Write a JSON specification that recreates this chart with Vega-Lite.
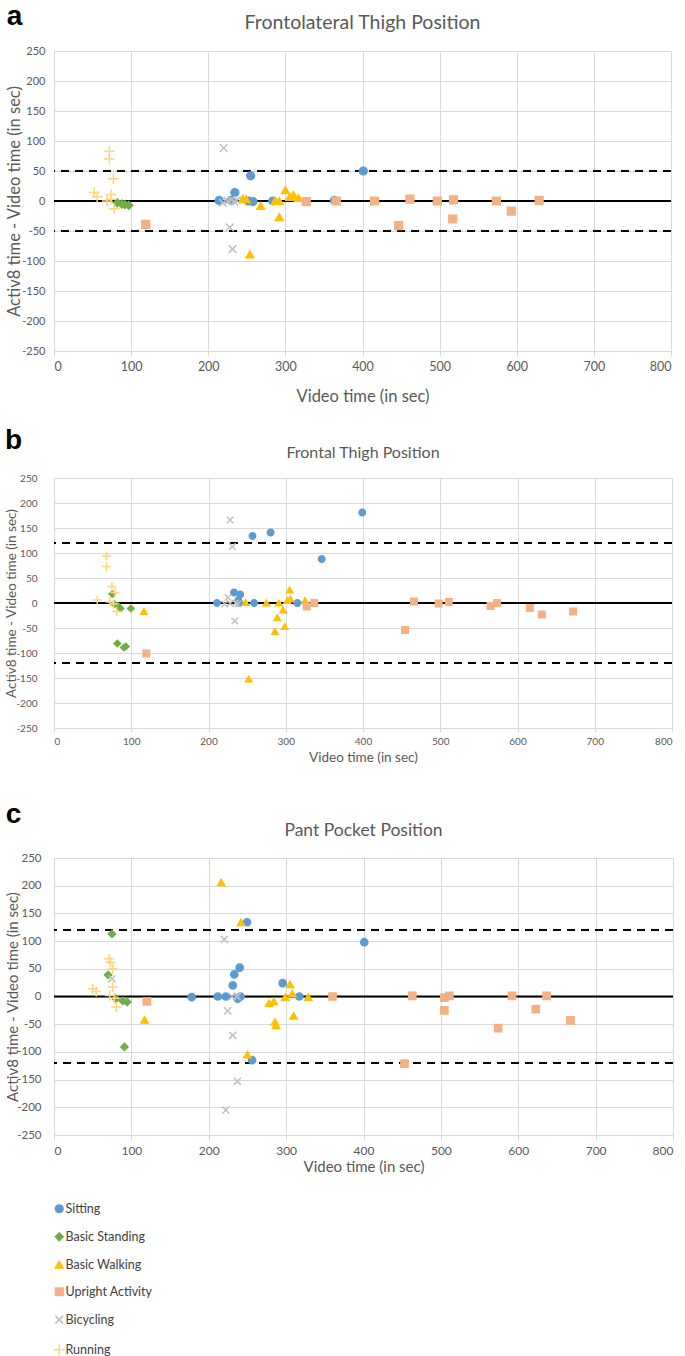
{
  "$schema": "https://vega.github.io/schema/vega-lite/v6.json",
  "background": "white",
  "padding": {"left": 4, "top": 2, "right": 2, "bottom": 2},
  "columns": 1,
  "align": "none",
  "spacing": 22,
  "config": {
    "view": {"stroke": null},
    "font": "Lato",
    "axis": {"gridColor": "#D9D9D9", "domainColor": "#D9D9D9", "tickColor": "#D9D9D9", "labelColor": "#595959", "titleColor": "#595959", "labelFont": "Lato", "titleFont": "Lato", "titleFontWeight": "normal"},
    "legend": {"labelFont": "Lato", "labelFontSize": 12.5, "labelColor": "#404040", "rowPadding": 13, "symbolSize": 60, "symbolStrokeWidth": 1.5, "labelOffset": 0}
  },
  "datasets": {
    "a": [
      {"activity": "Sitting", "video": 214, "diff": 1},
      {"activity": "Sitting", "video": 230, "diff": 1},
      {"activity": "Sitting", "video": 234.5, "diff": 14},
      {"activity": "Sitting", "video": 252, "diff": 0},
      {"activity": "Sitting", "video": 258, "diff": -1},
      {"activity": "Sitting", "video": 283.6, "diff": 0},
      {"activity": "Sitting", "video": 363.5, "diff": 1},
      {"activity": "Sitting", "video": 255, "diff": 42},
      {"activity": "Sitting", "video": 401, "diff": 50},
      {"activity": "Basic Standing", "video": 82, "diff": -3},
      {"activity": "Basic Standing", "video": 88, "diff": -5},
      {"activity": "Basic Standing", "video": 92, "diff": -6},
      {"activity": "Basic Standing", "video": 97, "diff": -7},
      {"activity": "Basic Walking", "video": 245, "diff": 4},
      {"activity": "Basic Walking", "video": 249, "diff": 3},
      {"activity": "Basic Walking", "video": 268, "diff": -8},
      {"activity": "Basic Walking", "video": 286.6, "diff": 0},
      {"activity": "Basic Walking", "video": 292, "diff": 0},
      {"activity": "Basic Walking", "video": 292, "diff": -27},
      {"activity": "Basic Walking", "video": 300, "diff": 18},
      {"activity": "Basic Walking", "video": 305.6, "diff": 7},
      {"activity": "Basic Walking", "video": 310.6, "diff": 10},
      {"activity": "Basic Walking", "video": 317, "diff": 5},
      {"activity": "Basic Walking", "video": 254, "diff": -89},
      {"activity": "Upright Activity", "video": 119, "diff": -39},
      {"activity": "Upright Activity", "video": 327, "diff": -1},
      {"activity": "Upright Activity", "video": 366, "diff": 0},
      {"activity": "Upright Activity", "video": 415.6, "diff": 0},
      {"activity": "Upright Activity", "video": 461.5, "diff": 3},
      {"activity": "Upright Activity", "video": 497, "diff": 0},
      {"activity": "Upright Activity", "video": 518, "diff": 2},
      {"activity": "Upright Activity", "video": 573.6, "diff": 0},
      {"activity": "Upright Activity", "video": 629, "diff": 1},
      {"activity": "Upright Activity", "video": 447, "diff": -41},
      {"activity": "Upright Activity", "video": 517, "diff": -30},
      {"activity": "Upright Activity", "video": 593, "diff": -17},
      {"activity": "Bicycling", "video": 220, "diff": 88},
      {"activity": "Bicycling", "video": 219, "diff": -3},
      {"activity": "Bicycling", "video": 225, "diff": 0},
      {"activity": "Bicycling", "video": 230, "diff": 2},
      {"activity": "Bicycling", "video": 234, "diff": -1},
      {"activity": "Bicycling", "video": 237, "diff": 1},
      {"activity": "Bicycling", "video": 228, "diff": -44},
      {"activity": "Bicycling", "video": 231.5, "diff": -80},
      {"activity": "Running", "video": 71.7, "diff": 83},
      {"activity": "Running", "video": 71.7, "diff": 70},
      {"activity": "Running", "video": 77, "diff": 37},
      {"activity": "Running", "video": 52, "diff": 14},
      {"activity": "Running", "video": 56, "diff": 7},
      {"activity": "Running", "video": 74, "diff": 11},
      {"activity": "Running", "video": 69, "diff": 0},
      {"activity": "Running", "video": 74, "diff": 3},
      {"activity": "Running", "video": 78, "diff": -13}
    ],
    "b": [
      {"activity": "Sitting", "video": 211, "diff": 0},
      {"activity": "Sitting", "video": 233, "diff": 21},
      {"activity": "Sitting", "video": 241, "diff": 17},
      {"activity": "Sitting", "video": 238.5, "diff": 5},
      {"activity": "Sitting", "video": 240, "diff": 0},
      {"activity": "Sitting", "video": 257, "diff": 134},
      {"activity": "Sitting", "video": 280.4, "diff": 141},
      {"activity": "Sitting", "video": 399, "diff": 181},
      {"activity": "Sitting", "video": 346.6, "diff": 88},
      {"activity": "Sitting", "video": 259, "diff": 0},
      {"activity": "Sitting", "video": 315, "diff": 0},
      {"activity": "Basic Standing", "video": 75.5, "diff": 18},
      {"activity": "Basic Standing", "video": 78, "diff": -2},
      {"activity": "Basic Standing", "video": 83, "diff": -6},
      {"activity": "Basic Standing", "video": 86, "diff": -11},
      {"activity": "Basic Standing", "video": 99.5, "diff": -11},
      {"activity": "Basic Standing", "video": 82, "diff": -81},
      {"activity": "Basic Standing", "video": 90.5, "diff": -89},
      {"activity": "Basic Standing", "video": 93, "diff": -87},
      {"activity": "Basic Walking", "video": 116.5, "diff": -17},
      {"activity": "Basic Walking", "video": 248, "diff": 1},
      {"activity": "Basic Walking", "video": 275, "diff": 0},
      {"activity": "Basic Walking", "video": 291, "diff": 0},
      {"activity": "Basic Walking", "video": 302, "diff": 5},
      {"activity": "Basic Walking", "video": 306, "diff": 8},
      {"activity": "Basic Walking", "video": 305, "diff": 26},
      {"activity": "Basic Walking", "video": 296.6, "diff": -14},
      {"activity": "Basic Walking", "video": 289, "diff": -29},
      {"activity": "Basic Walking", "video": 298.7, "diff": -47},
      {"activity": "Basic Walking", "video": 286, "diff": -57},
      {"activity": "Basic Walking", "video": 325, "diff": 5},
      {"activity": "Basic Walking", "video": 252, "diff": -152},
      {"activity": "Upright Activity", "video": 119.5, "diff": -101},
      {"activity": "Upright Activity", "video": 327, "diff": -7},
      {"activity": "Upright Activity", "video": 337, "diff": 0},
      {"activity": "Upright Activity", "video": 466, "diff": 3},
      {"activity": "Upright Activity", "video": 498, "diff": -1},
      {"activity": "Upright Activity", "video": 511, "diff": 2},
      {"activity": "Upright Activity", "video": 565, "diff": -6},
      {"activity": "Upright Activity", "video": 573.6, "diff": 0},
      {"activity": "Upright Activity", "video": 616, "diff": -10},
      {"activity": "Upright Activity", "video": 631.5, "diff": -23},
      {"activity": "Upright Activity", "video": 672, "diff": -17},
      {"activity": "Upright Activity", "video": 454.5, "diff": -54},
      {"activity": "Bicycling", "video": 228, "diff": 166},
      {"activity": "Bicycling", "video": 231, "diff": 113},
      {"activity": "Bicycling", "video": 234, "diff": -36},
      {"activity": "Bicycling", "video": 221, "diff": -2},
      {"activity": "Bicycling", "video": 225, "diff": 11},
      {"activity": "Bicycling", "video": 228, "diff": -1},
      {"activity": "Bicycling", "video": 235, "diff": 0},
      {"activity": "Bicycling", "video": 238, "diff": -2},
      {"activity": "Running", "video": 68, "diff": 94},
      {"activity": "Running", "video": 68, "diff": 73},
      {"activity": "Running", "video": 75, "diff": 33},
      {"activity": "Running", "video": 79, "diff": 21},
      {"activity": "Running", "video": 56, "diff": 6},
      {"activity": "Running", "video": 72.6, "diff": 2},
      {"activity": "Running", "video": 77, "diff": -2},
      {"activity": "Running", "video": 81, "diff": -17}
    ],
    "c": [
      {"activity": "Sitting", "video": 178, "diff": -1},
      {"activity": "Sitting", "video": 211.6, "diff": 0},
      {"activity": "Sitting", "video": 222, "diff": 0},
      {"activity": "Sitting", "video": 231, "diff": 20},
      {"activity": "Sitting", "video": 233, "diff": 40},
      {"activity": "Sitting", "video": 240, "diff": 52},
      {"activity": "Sitting", "video": 237.4, "diff": -4},
      {"activity": "Sitting", "video": 241, "diff": 0},
      {"activity": "Sitting", "video": 249.5, "diff": 134},
      {"activity": "Sitting", "video": 295.5, "diff": 24},
      {"activity": "Sitting", "video": 317, "diff": 0},
      {"activity": "Sitting", "video": 256, "diff": -115},
      {"activity": "Sitting", "video": 401, "diff": 98},
      {"activity": "Basic Standing", "video": 75, "diff": 113},
      {"activity": "Basic Standing", "video": 70, "diff": 39},
      {"activity": "Basic Standing", "video": 80, "diff": -4},
      {"activity": "Basic Standing", "video": 89, "diff": -8},
      {"activity": "Basic Standing", "video": 94.6, "diff": -10},
      {"activity": "Basic Standing", "video": 91, "diff": -91},
      {"activity": "Basic Walking", "video": 117, "diff": -42},
      {"activity": "Basic Walking", "video": 216, "diff": 206},
      {"activity": "Basic Walking", "video": 241.7, "diff": 134},
      {"activity": "Basic Walking", "video": 250, "diff": -105},
      {"activity": "Basic Walking", "video": 278, "diff": -12},
      {"activity": "Basic Walking", "video": 284, "diff": -9},
      {"activity": "Basic Walking", "video": 285.5, "diff": -46},
      {"activity": "Basic Walking", "video": 287, "diff": -52},
      {"activity": "Basic Walking", "video": 299, "diff": -1},
      {"activity": "Basic Walking", "video": 305, "diff": 22},
      {"activity": "Basic Walking", "video": 308, "diff": 5},
      {"activity": "Basic Walking", "video": 309.7, "diff": -35},
      {"activity": "Basic Walking", "video": 328.6, "diff": -1},
      {"activity": "Upright Activity", "video": 120, "diff": -9},
      {"activity": "Upright Activity", "video": 360, "diff": 0},
      {"activity": "Upright Activity", "video": 463, "diff": 1},
      {"activity": "Upright Activity", "video": 504.5, "diff": -2},
      {"activity": "Upright Activity", "video": 511, "diff": 1},
      {"activity": "Upright Activity", "video": 504.5, "diff": -25},
      {"activity": "Upright Activity", "video": 574, "diff": -57},
      {"activity": "Upright Activity", "video": 592, "diff": 1},
      {"activity": "Upright Activity", "video": 622.7, "diff": -23},
      {"activity": "Upright Activity", "video": 636.6, "diff": 1},
      {"activity": "Upright Activity", "video": 667.5, "diff": -43},
      {"activity": "Upright Activity", "video": 453, "diff": -121},
      {"activity": "Bicycling", "video": 75, "diff": 32},
      {"activity": "Bicycling", "video": 220, "diff": 103},
      {"activity": "Bicycling", "video": 224.5, "diff": -26},
      {"activity": "Bicycling", "video": 231, "diff": -70},
      {"activity": "Bicycling", "video": 237, "diff": -153},
      {"activity": "Bicycling", "video": 230, "diff": 0},
      {"activity": "Bicycling", "video": 236.5, "diff": 0},
      {"activity": "Bicycling", "video": 222, "diff": -205},
      {"activity": "Running", "video": 71, "diff": 68},
      {"activity": "Running", "video": 73, "diff": 62},
      {"activity": "Running", "video": 76, "diff": 50},
      {"activity": "Running", "video": 50, "diff": 14},
      {"activity": "Running", "video": 54.6, "diff": 9},
      {"activity": "Running", "video": 76, "diff": 17},
      {"activity": "Running", "video": 72, "diff": 2},
      {"activity": "Running", "video": 78, "diff": -3},
      {"activity": "Running", "video": 80.4, "diff": -19}
    ]
  },
  "concat": [
    {
      "title": {"text": "a", "anchor": "start", "frame": "bounds", "fontSize": 28, "font": "Liberation Sans", "fontWeight": "bold", "color": "#000000", "offset": -18},
      "vconcat": [
        {
          "width": 617, "height": 300,
          "title": {"text": "Frontolateral Thigh Position", "fontSize": 19.5, "font": "Lato", "color": "#595959", "fontWeight": "normal", "offset": 12},
          "encoding": {
            "y": {"field": "diff", "type": "quantitative", "scale": {"domain": [-250, 250], "nice": false},
                  "axis": {"values": [-250, -200, -150, -100, -50, 0, 50, 100, 150, 200, 250], "labelExpr": "'' + datum.value", "title": "Activ8 time - Video time (in sec)", "labelFontSize": 11, "titleFontSize": 16.5, "ticks": false, "labelPadding": 9, "titlePadding": -1}}
          },
          "layer": [
            {"data": {"values": [{"diff": 50}, {"diff": -50}]}, "mark": {"type": "rule", "color": "#000000", "strokeWidth": 2, "strokeDash": [8, 6]}},
            {"data": {"values": [{"diff": 0}]}, "mark": {"type": "rule", "color": "#000000", "strokeWidth": 2}},
            {"data": {"name": "a"}, "mark": {"type": "point", "filled": true, "strokeWidth": 1.5, "opacity": 1, "size": 60},
             "encoding": {
               "x": {"field": "video", "type": "quantitative", "scale": {"domain": [0, 800], "nice": false},
                     "axis": {"values": [0, 100, 200, 300, 400, 500, 600, 700, 800], "title": "Video time (in sec)", "labelFontSize": 12.5, "titleFontSize": 16.5, "labelPadding": 4, "titlePadding": 16, "tickSize": 5}},
               "color": {"field": "activity", "type": "nominal", "scale": {"domain": ["Sitting", "Basic Standing", "Basic Walking", "Upright Activity", "Bicycling", "Running"], "range": ["#5B9BD5", "#70AD47", "#FFC000", "#F4B183", "#BFBFBF", "#FFD47F"]},
                         "legend": {"title": null, "orient": "none", "legendX": -1, "legendY": 1151.5, "direction": "vertical"}},
               "stroke": {"field": "activity", "type": "nominal", "scale": {"domain": ["Sitting", "Basic Standing", "Basic Walking", "Upright Activity", "Bicycling", "Running"], "range": ["#5B9BD5", "#70AD47", "#FFC000", "#F4B183", "#BFBFBF", "#FFD47F"]},
                         "legend": {"title": null, "orient": "none", "legendX": -1, "legendY": 1151.5, "direction": "vertical"}},
               "shape": {"field": "activity", "type": "nominal", "scale": {"domain": ["Sitting", "Basic Standing", "Basic Walking", "Upright Activity", "Bicycling", "Running"], "range": ["circle", "diamond", "triangle-up", "square", "M-1,-1L1,1M-1,1L1,-1", "M-1.4,0L1.4,0M0,-1.4L0,1.4"]},
                         "legend": {"title": null, "orient": "none", "legendX": -1, "legendY": 1151.5, "direction": "vertical"}}
             }}
          ]
        }
      ]
    },
    {
      "columns": 1,
      "align": "none",
      "spacing": 37,
      "concat": [
        {
          "title": {"text": "b", "anchor": "start", "frame": "bounds", "fontSize": 28, "font": "Liberation Sans", "fontWeight": "bold", "color": "#000000", "offset": -10},
          "vconcat": [
            {
              "width": 618, "height": 250,
              "title": {"text": "Frontal Thigh Position", "fontSize": 16, "font": "Lato", "color": "#595959", "fontWeight": "normal", "offset": 12},
              "encoding": {
                "y": {"field": "diff", "type": "quantitative", "scale": {"domain": [-250, 250], "nice": false},
                      "axis": {"values": [-250, -200, -150, -100, -50, 0, 50, 100, 150, 200, 250], "labelExpr": "'' + datum.value", "title": "Activ8 time - Video time (in sec)", "labelFontSize": 10, "titleFontSize": 13.5, "ticks": false, "labelPadding": 17, "titlePadding": -3}}
              },
              "layer": [
                {"data": {"values": [{"diff": 120}, {"diff": -120}]}, "mark": {"type": "rule", "color": "#000000", "strokeWidth": 2, "strokeDash": [8, 6]}},
                {"data": {"values": [{"diff": 0}]}, "mark": {"type": "rule", "color": "#000000", "strokeWidth": 2}},
                {"data": {"name": "b"}, "mark": {"type": "point", "filled": true, "strokeWidth": 1.5, "opacity": 1, "size": 42},
                 "encoding": {
                   "x": {"field": "video", "type": "quantitative", "scale": {"domain": [0, 800], "nice": false},
                         "axis": {"values": [0, 100, 200, 300, 400, 500, 600, 700, 800], "title": "Video time (in sec)", "labelFontSize": 10, "titleFontSize": 13.5, "labelPadding": 4, "titlePadding": 4, "tickSize": 4}},
                   "color": {"field": "activity", "type": "nominal", "scale": {"domain": ["Sitting", "Basic Standing", "Basic Walking", "Upright Activity", "Bicycling", "Running"], "range": ["#5B9BD5", "#70AD47", "#FFC000", "#F4B183", "#BFBFBF", "#FFD47F"]},
                             "legend": {"title": null, "orient": "none", "legendX": -1, "legendY": 1151.5, "direction": "vertical"}},
                   "stroke": {"field": "activity", "type": "nominal", "scale": {"domain": ["Sitting", "Basic Standing", "Basic Walking", "Upright Activity", "Bicycling", "Running"], "range": ["#5B9BD5", "#70AD47", "#FFC000", "#F4B183", "#BFBFBF", "#FFD47F"]},
                             "legend": {"title": null, "orient": "none", "legendX": -1, "legendY": 1151.5, "direction": "vertical"}},
                   "shape": {"field": "activity", "type": "nominal", "scale": {"domain": ["Sitting", "Basic Standing", "Basic Walking", "Upright Activity", "Bicycling", "Running"], "range": ["circle", "diamond", "triangle-up", "square", "M-1,-1L1,1M-1,1L1,-1", "M-1.4,0L1.4,0M0,-1.4L0,1.4"]},
                             "legend": {"title": null, "orient": "none", "legendX": -1, "legendY": 1151.5, "direction": "vertical"}}
                 }}
              ]
            }
          ]
        },
        {
          "title": {"text": "c", "anchor": "start", "frame": "bounds", "fontSize": 28, "font": "Liberation Sans", "fontWeight": "bold", "color": "#000000", "offset": -7},
          "vconcat": [
            {
              "width": 619, "height": 277,
              "title": {"text": "Pant Pocket Position", "fontSize": 17.5, "font": "Lato", "color": "#595959", "fontWeight": "normal", "offset": 12.5},
              "encoding": {
                "y": {"field": "diff", "type": "quantitative", "scale": {"domain": [-250, 250], "nice": false},
                      "axis": {"values": [-250, -200, -150, -100, -50, 0, 50, 100, 150, 200, 250], "labelExpr": "'' + datum.value", "title": "Activ8 time - Video time (in sec)", "labelFontSize": 11.5, "titleFontSize": 15, "ticks": false, "labelPadding": 13, "titlePadding": -4}}
              },
              "layer": [
                {"data": {"values": [{"diff": 120}, {"diff": -120}]}, "mark": {"type": "rule", "color": "#000000", "strokeWidth": 2, "strokeDash": [8, 6]}},
                {"data": {"values": [{"diff": 0}]}, "mark": {"type": "rule", "color": "#000000", "strokeWidth": 2}},
                {"data": {"name": "c"}, "mark": {"type": "point", "filled": true, "strokeWidth": 1.5, "opacity": 1, "size": 52},
                 "encoding": {
                   "x": {"field": "video", "type": "quantitative", "scale": {"domain": [0, 800], "nice": false},
                         "axis": {"values": [0, 100, 200, 300, 400, 500, 600, 700, 800], "title": "Video time (in sec)", "labelFontSize": 12, "titleFontSize": 15, "labelPadding": 5, "titlePadding": 3, "tickSize": 5}},
                   "color": {"field": "activity", "type": "nominal", "scale": {"domain": ["Sitting", "Basic Standing", "Basic Walking", "Upright Activity", "Bicycling", "Running"], "range": ["#5B9BD5", "#70AD47", "#FFC000", "#F4B183", "#BFBFBF", "#FFD47F"]},
                             "legend": {"title": null, "orient": "none", "legendX": -1, "legendY": 1151.5, "direction": "vertical"}},
                   "stroke": {"field": "activity", "type": "nominal", "scale": {"domain": ["Sitting", "Basic Standing", "Basic Walking", "Upright Activity", "Bicycling", "Running"], "range": ["#5B9BD5", "#70AD47", "#FFC000", "#F4B183", "#BFBFBF", "#FFD47F"]},
                             "legend": {"title": null, "orient": "none", "legendX": -1, "legendY": 1151.5, "direction": "vertical"}},
                   "shape": {"field": "activity", "type": "nominal", "scale": {"domain": ["Sitting", "Basic Standing", "Basic Walking", "Upright Activity", "Bicycling", "Running"], "range": ["circle", "diamond", "triangle-up", "square", "M-1,-1L1,1M-1,1L1,-1", "M-1.4,0L1.4,0M0,-1.4L0,1.4"]},
                             "legend": {"title": null, "orient": "none", "legendX": -1, "legendY": 1151.5, "direction": "vertical"}}
                 }}
              ]
            }
          ]
        }
      ]
    }
  ]
}
